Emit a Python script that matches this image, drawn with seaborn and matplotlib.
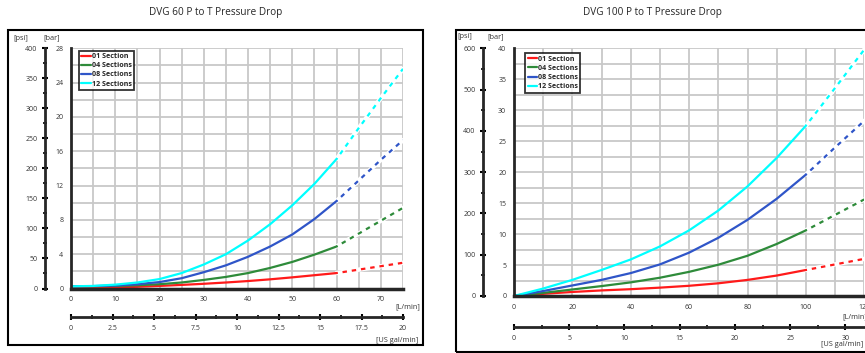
import matplotlib
matplotlib.use("Agg")
import pandas as pd
import matplotlib.pyplot as plt
import seaborn as sns
from matplotlib.patches import Rectangle
from matplotlib.ticker import MultipleLocator, FuncFormatter

# legend names and line colours
sections = ["01 Section", "04 Sections", "08 Sections", "12 Sections"]
colors = ["#ff1a1a", "#2e8b3a", "#2f55c8", "#00ffff"]

# DVG 60 - pressure drop [bar] vs flow [L/min], solid up to 60 L/min, dashed beyond
flow60 = [0, 5, 10, 15, 20, 25, 30, 35, 40, 45, 50, 55, 60, 65, 70, 75]
dvg60_01 = [0.05, 0.08, 0.12, 0.2, 0.3, 0.42, 0.55, 0.7, 0.87, 1.07, 1.3, 1.55, 1.8, 2.2, 2.6, 3.0]
dvg60_04 = [0.25, 0.26, 0.3, 0.38, 0.5, 0.7, 1.0, 1.35, 1.8, 2.4, 3.1, 3.95, 4.9, 6.4, 7.9, 9.4]
dvg60_08 = [0.25, 0.28, 0.35, 0.5, 0.75, 1.2, 1.9, 2.7, 3.7, 4.9, 6.3, 8.1, 10.2, 12.6, 15.0, 17.3]
dvg60_12 = [0.25, 0.3, 0.45, 0.7, 1.1, 1.8, 2.8, 4.0, 5.6, 7.5, 9.7, 12.2, 15.1, 18.7, 22.2, 25.6]
rated60 = 60

# DVG 100 - solid up to 100 L/min, dashed beyond
flow100 = [0, 10, 20, 30, 40, 50, 60, 70, 80, 90, 100, 110, 120]
dvg100_01 = [0, 0.35, 0.65, 0.9, 1.1, 1.35, 1.65, 2.05, 2.6, 3.3, 4.2, 5.1, 6.0]
dvg100_04 = [0, 0.5, 1.05, 1.6, 2.2, 2.95, 3.9, 5.05, 6.5, 8.4, 10.6, 13.1, 15.6]
dvg100_08 = [0, 0.8, 1.7, 2.6, 3.7, 5.1, 7.0, 9.4, 12.3, 15.7, 19.6, 24.0, 28.3]
dvg100_12 = [0, 1.2, 2.6, 4.2, 5.9, 8.0, 10.6, 13.8, 17.7, 22.3, 27.5, 33.6, 39.8]
rated100 = 100

W, H = 865, 353
sns.set_style("white")
plt.rcParams['font.family'] = ['Open Sans', 'DejaVu Sans']

fig = plt.figure(figsize=(W / 100, H / 100), dpi=100)


def px(x0, y0, x1, y1):
    # pixel box -> figure fraction rect
    return [x0 / W, 1 - y1 / H, (x1 - x0) / W, (y1 - y0) / H]


def tidy(axis_obj, lw):
    axis_obj.tick_params(which='major', direction='inout', length=5, width=lw,
                         labelsize=5, colors='black', labelcolor='#333333', pad=3)
    axis_obj.tick_params(which='minor', direction='inout', length=3.5, width=lw * 0.8,
                         colors='black')


def panel(rect, flow, series, rated, xmax, ymax, xmaj, xmin, ymaj, ymin,
          psi_max, psi_maj, psi_min, to_gal, gal_maj, gal_min, psi_loc, gal_loc, leg_pos):
    ax = fig.add_axes(rect)
    df = pd.DataFrame({"flow": flow})
    for name, vals in zip(sections, series):
        df[name] = vals
    long = df.melt(id_vars="flow", var_name="section", value_name="bar")
    solid = long[long["flow"] <= rated]
    dash = long[long["flow"] >= rated]
    pal = dict(zip(sections, colors))

    sns.lineplot(data=solid, x="flow", y="bar", hue="section", palette=pal,
                 lw=1.6, ax=ax, legend=False, zorder=4)
    for name in sections:
        d = dash[dash["section"] == name]
        sns.lineplot(data=d, x="flow", y="bar", color="white", lw=3.2, ax=ax, zorder=3)
        sns.lineplot(data=d, x="flow", y="bar", color=pal[name], lw=1.6,
                     linestyle=(1.5, (2, 2.2)), ax=ax, zorder=4)

    ax.set_xlim(0, xmax)
    ax.set_ylim(0, ymax)
    ax.xaxis.set_major_locator(MultipleLocator(xmaj))
    ax.xaxis.set_minor_locator(MultipleLocator(xmin))
    ax.yaxis.set_major_locator(MultipleLocator(ymaj))
    ax.yaxis.set_minor_locator(MultipleLocator(ymin))
    ax.yaxis.set_major_formatter(FuncFormatter(lambda v, p: f"{v:g}"))
    ax.grid(which='both', color='#c8c8c8', lw=1.3)
    ax.set_axisbelow(True)
    for s in ['top', 'right']:
        ax.spines[s].set_visible(False)
    ax.spines['left'].set_linewidth(2)
    ax.spines['bottom'].set_linewidth(2.5)
    ax.spines['left'].set_zorder(5)
    ax.spines['bottom'].set_zorder(5)
    tidy(ax, 1.5)
    ax.set_xlabel("")
    ax.set_ylabel("")

    # psi scale
    k = psi_max / ymax
    sec_y = ax.secondary_yaxis(psi_loc, functions=(lambda b: b * k, lambda p: p / k))
    sec_y.yaxis.set_major_locator(MultipleLocator(psi_maj))
    sec_y.yaxis.set_minor_locator(MultipleLocator(psi_min))
    for s in sec_y.spines.values():
        s.set_linewidth(2)
    tidy(sec_y, 1.5)

    # US gal/min scale
    sec_x = ax.secondary_xaxis(gal_loc, functions=(lambda q: q * to_gal, lambda g: g / to_gal))
    sec_x.xaxis.set_major_locator(MultipleLocator(gal_maj))
    sec_x.xaxis.set_minor_locator(MultipleLocator(gal_min))
    sec_x.xaxis.set_major_formatter(FuncFormatter(lambda v, p: f"{v:g}"))
    for s in sec_x.spines.values():
        s.set_linewidth(2)
    tidy(sec_x, 1.5)

    handles = [plt.Line2D([], [], color=c, lw=1.6) for c in colors]
    leg = ax.legend(handles, sections, loc='upper left', bbox_to_anchor=leg_pos,
                    prop={'size': 5.1, 'weight': 'bold'}, frameon=True, fancybox=False,
                    handlelength=1.3, handletextpad=0.15, borderpad=0.35,
                    labelspacing=0.3, borderaxespad=0)
    leg.get_frame().set_edgecolor('black')
    leg.get_frame().set_linewidth(1.3)
    leg.set_zorder(6)
    return ax


# DVG 60 panel
panel(px(71, 48.3, 403, 288.5), flow60, [dvg60_01, dvg60_04, dvg60_08, dvg60_12], rated60,
      75, 28, 10, 5, 4, 2, 400, 50, 25, 20 / 75, 2.5, 1.25,
      -0.078, -0.119, (0.024, 0.99))

# DVG 100 panel
panel(px(513.9, 48.3, 864.3, 296), flow100, [dvg100_01, dvg100_04, dvg100_08, dvg100_12], rated100,
      120, 40, 20, 10, 5, 2.5, 600, 100, 50, 1 / 3.785, 5, 2.5,
      -0.088, -0.125, (0.032, 0.98))

# frames around each chart
fig.add_artist(Rectangle((8 / W, 1 - 345 / H), (423 - 8) / W, (345 - 30) / H,
                         transform=fig.transFigure, fill=False, lw=1.5, ec='black'))
fig.add_artist(Rectangle((456 / W, 1 - 352 / H), (880 - 456) / W, (352 - 30) / H,
                         transform=fig.transFigure, fill=False, lw=1.5, ec='black'))

# titles and unit labels
fig.text(216 / W, 1 - 13 / H, "DVG 60 P to T Pressure Drop", ha='center', va='center', fontsize=7.2)
fig.text(652 / W, 1 - 13 / H, "DVG 100 P to T Pressure Drop", ha='center', va='center', fontsize=7.2)
lab = dict(fontsize=5.3, va='center', color='#333333')
fig.text(13 / W, 1 - 38 / H, "[psi]", ha='left', **lab)
fig.text(43 / W, 1 - 38 / H, "[bar]", ha='left', **lab)
fig.text(457 / W, 1 - 37 / H, "[psi]", ha='left', **lab)
fig.text(487 / W, 1 - 37 / H, "[bar]", ha='left', **lab)
fig.text(420 / W, 1 - 307 / H, "[L/min]", ha='right', **lab)
fig.text(418 / W, 1 - 340 / H, "[US gal/min]", ha='right', **lab)
fig.text(842 / W, 1 - 317 / H, "[L/min]", ha='left', **lab)
fig.text(821 / W, 1 - 344 / H, "[US gal/min]", ha='left', **lab)

plt.savefig("out.png", dpi=100)
